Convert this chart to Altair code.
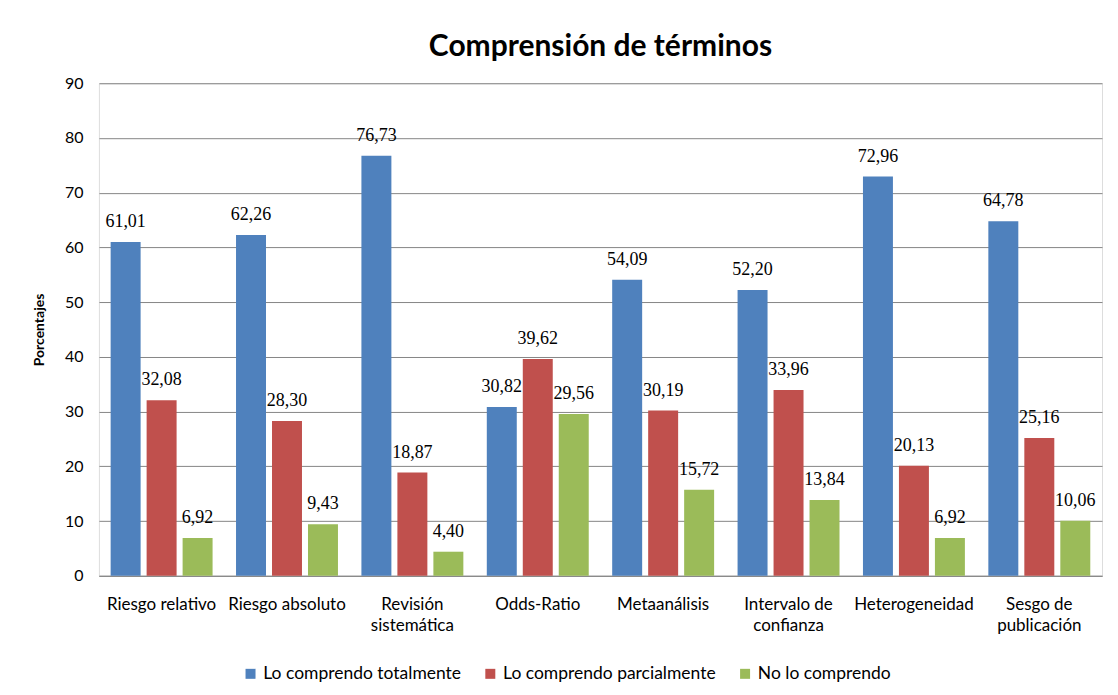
import altair as alt
import pandas as pd

categories = ["Riesgo relativo", "Riesgo absoluto", "Revisión\nsistemática", "Odds-Ratio",
              "Metaanálisis", "Intervalo de\nconfianza", "Heterogeneidad", "Sesgo de\npublicación"]
series = ["Lo comprendo totalmente", "Lo comprendo parcialmente", "No lo comprendo"]
totalmente = [61.01, 62.26, 76.73, 30.82, 54.09, 52.20, 72.96, 64.78]
parcialmente = [32.08, 28.30, 18.87, 39.62, 30.19, 33.96, 20.13, 25.16]
no_comprendo = [6.92, 9.43, 4.40, 29.56, 15.72, 13.84, 6.92, 10.06]
colors = ["#4F81BD", "#C0504D", "#9BBB59"]

rows = []
for s, vals in zip(series, [totalmente, parcialmente, no_comprendo]):
    for c, v in zip(categories, vals):
        rows.append({"cat": c, "serie": s, "valor": v,
                     "etiqueta": f"{v:.2f}".replace(".", ",")})
df = pd.DataFrame(rows)

SANS = "Lato"
SERIF = "Liberation Serif"

x = alt.X("cat:N", sort=categories, title=None,
          scale=alt.Scale(paddingInner=0.187, paddingOuter=0.0935),
          axis=alt.Axis(labelExpr="split(datum.value, '\\n')", labelAngle=0,
                        labelFont=SANS, labelFontSize=17, labelColor="#000000",
                        labelLineHeight=21, labelPadding=21, ticks=False,
                        domainColor="#868686", labelBaseline="top"))
xoff = alt.XOffset("serie:N", sort=series,
                   scale=alt.Scale(paddingInner=0.167, paddingOuter=0))
y = alt.Y("valor:Q", title="Porcentajes",
          scale=alt.Scale(domain=[0, 90], nice=False),
          axis=alt.Axis(values=list(range(0, 91, 10)), ticks=False, domain=False,
                        labelFont=SANS, labelFontSize=16, labelColor="#000000",
                        labelPadding=16, gridColor="#868686", gridOpacity=1,
                        titleFont=SANS, titleFontSize=14, titleFontWeight="bold",
                        titleColor="#000000", titlePadding=18))

base = alt.Chart(df).encode(x=x, xOffset=xoff)

bars = base.mark_bar().encode(
    y=y,
    color=alt.Color("serie:N", sort=series, title=None,
                    scale=alt.Scale(domain=series, range=colors),
                    legend=alt.Legend(orient="none", legendX=143, legendY=582,
                                      direction="horizontal",
                                      symbolType="square", symbolSize=100,
                                      symbolStrokeWidth=0, labelFont=SANS,
                                      labelFontSize=17.5, labelColor="#000000",
                                      labelLimit=400,
                                      columnPadding=20, labelOffset=4)),
)

labels = base.mark_text(baseline="bottom", dy=-11, font=SERIF, fontSize=18,
                        color="#000000").encode(
    y=alt.Y("valor:Q"),
    text="etiqueta:N",
)

chart = alt.layer(bars, labels).properties(
    width=1004, height=493,
    title=alt.TitleParams("Comprensión de términos", font=SANS, fontSize=30,
                          fontWeight="bold", color="#000000", offset=13, anchor="middle"),
    padding={"left": 24, "top": 24, "right": 8, "bottom": 5},
).configure_view(stroke=None).configure(background="#ffffff")

chart.save("out.html", embed_options={"renderer": "svg", "actions": False})
